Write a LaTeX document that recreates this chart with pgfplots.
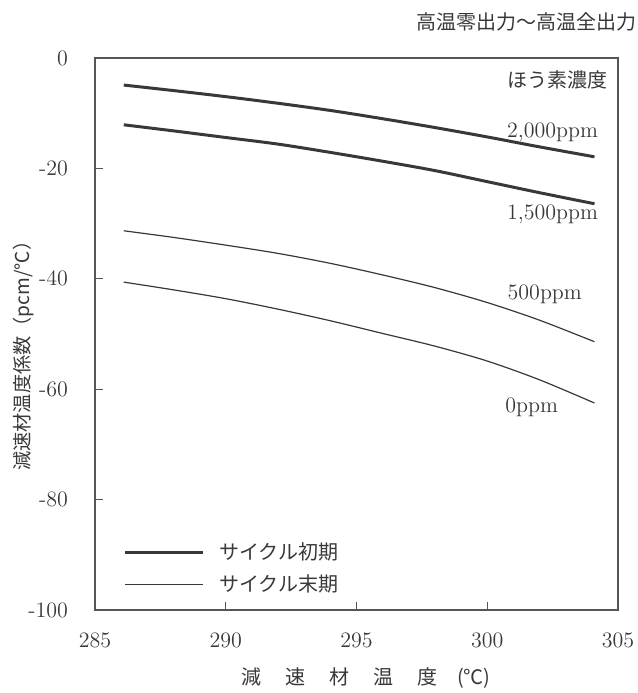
\documentclass[border=0pt]{standalone}
\usepackage{fontspec}
\usepackage{pgfplots}
\usepackage{pgfplotstable}
\pgfplotsset{compat=1.18}
\newfontfamily\cjk{Noto Sans CJK JP}
\definecolor{ink}{HTML}{383838}
\definecolor{frame}{HTML}{555555}

% moderator temperature coefficient (pcm/C) by boron concentration
\pgfplotstableread{
x      b2000  b1500  b500   b0
286.1  -4.9   -12.1  -31.3  -40.6
288    -5.9   -13.2  -32.5  -42.0
290    -7.0   -14.4  -33.9  -43.6
292    -8.2   -15.6  -35.4  -45.5
294    -9.5   -17.1  -37.2  -47.6
296    -11.0  -18.7  -39.3  -49.9
298    -12.6  -20.4  -41.6  -52.2
300    -14.3  -22.4  -44.3  -54.9
302    -16.1  -24.4  -47.5  -58.3
304.1  -17.9  -26.4  -51.4  -62.5
}\mtc

\begin{document}
\begin{tikzpicture}
\begin{axis}[
  scale only axis, width=261.5pt, height=276pt,
  at={(0,0)}, anchor=south west,
  xmin=285, xmax=305, ymin=-100, ymax=0,
  xtick={285,290,...,305}, xticklabels={285,290,295,300,305},
  ytick={-100,-80,...,0}, yticklabels={-100,-80,-60,-40,-20,0},
  tick align=inside, tick pos=left, major tick length=4pt,
  axis line style={draw=frame, line width=0.8pt},
  every tick/.style={frame, line width=0.6pt},
  ticklabel style={font=\fontsize{11}{13}\selectfont, text=ink},
  xticklabel style={yshift=-8pt},
  yticklabel style={xshift=-10pt},
  xlabel={\cjk 減\hspace{1.2em}速\hspace{1.2em}材\hspace{1.2em}温\hspace{1.2em}度\hspace{1em}(℃)},
  xlabel style={at={(rel axis cs:0.518,0)}, anchor=center, yshift=-34pt,
    font=\fontsize{10}{12}\selectfont, text=ink},
  ylabel={\cjk 減速材温度係数（pcm/℃）},
  ylabel style={at={(rel axis cs:0,0.469)}, anchor=center, yshift=36pt,
    font=\fontsize{9.6}{11}\selectfont, text=ink},
  legend style={draw=none, fill=none, at={(rel axis cs:0.042,0.02)},
    anchor=south west, row sep=6pt,
    nodes={inner sep=0pt},
    /tikz/every odd column/.append style={column sep=7.5pt},
    font=\cjk\fontsize{10}{12}\selectfont, text=ink},
  legend cell align=left,
  legend image code/.code={\draw[#1] (0pt,0pt) -- (39pt,0pt);},
  clip=false,
]
\addplot[ink, line width=1.5pt, smooth] table[x=x, y=b2000] {\mtc};
\addlegendentry{サイクル初期}
\addplot[ink, line width=0.6pt, smooth] table[x=x, y=b500] {\mtc};
\addlegendentry{サイクル末期}
\addplot[ink, line width=1.5pt, smooth, forget plot] table[x=x, y=b1500] {\mtc};
\addplot[ink, line width=0.6pt, smooth, forget plot] table[x=x, y=b0] {\mtc};

\node[font=\cjk\fontsize{10}{12}\selectfont, text=ink] at (axis cs:302.7,-4.0) {ほう素濃度};
\node[font=\fontsize{11}{13}\selectfont, text=ink] at (axis cs:302.5,-13.4) {2,000ppm};
\node[font=\fontsize{11}{13}\selectfont, text=ink] at (axis cs:302.5,-28.4) {1,500ppm};
\node[font=\fontsize{11}{13}\selectfont, text=ink] at (axis cs:302.2,-42.9) {500ppm};
\node[font=\fontsize{11}{13}\selectfont, text=ink] at (axis cs:301.7,-63.2) {0ppm};
\node[font=\cjk\fontsize{10}{12}\selectfont, text=ink] at ([xshift=4pt,yshift=18pt]rel axis cs:0.809,1) {高温零出力～高温全出力};
\end{axis}
\pgfresetboundingbox
\path[use as bounding box] (-47.5pt,-41.5pt) rectangle (271.5pt,305pt);
\end{tikzpicture}
\end{document}
